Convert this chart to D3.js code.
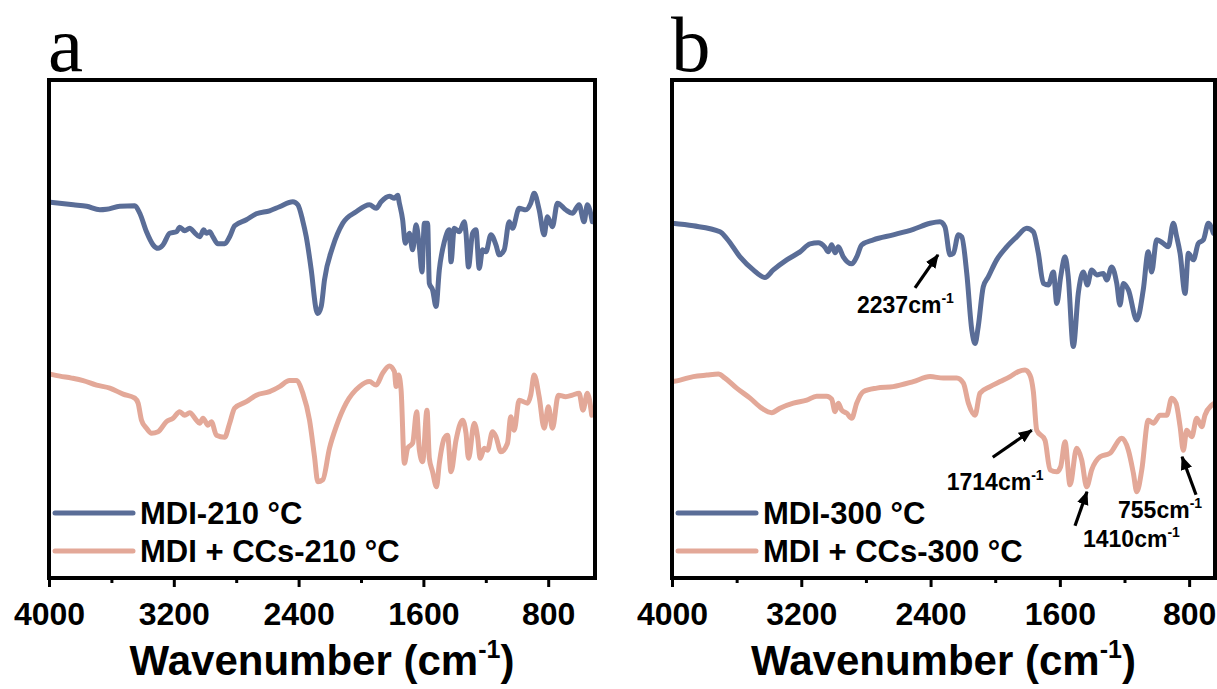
<!DOCTYPE html>
<html>
<head>
<meta charset="utf-8">
<script src="https://cdn.jsdelivr.net/npm/d3@7"></script>
<style>
  html, body { margin: 0; padding: 0; background: #fff; }
  svg { display: block; }
</style>
</head>
<body>
<svg id="chart" width="1217" height="689"></svg>
<script>
// FTIR spectra: [wavenumber (cm-1), transmittance (a.u., offset)]
const mdi210 = [[3994,75.0],[3844,74.5],[3759,74.2],[3674,73.5],[3631,73.6],[3546,74.2],[3450,74.3],[3418,72.8],[3375,69.1],[3333,66.5],[3301,65.8],[3269,66.5],[3226,68.8],[3183,69.1],[3162,70.0],[3130,69.3],[3098,69.8],[3066,68.9],[3034,68.1],[3008,69.5],[2991,68.8],[2970,69.1],[2949,68.1],[2917,66.7],[2874,66.7],[2842,68.1],[2810,70.3],[2735,71.5],[2671,72.7],[2586,73.3],[2522,74.1],[2437,75.1],[2405,74.5],[2375,71.5],[2351,68.1],[2319,61.5],[2287,53.5],[2277,52.8],[2255,54.2],[2234,59.5],[2181,66.1],[2117,70.8],[2031,73.1],[1946,74.5],[1903,73.8],[1871,75.1],[1818,76.2],[1786,75.8],[1765,76.4],[1754,74.8],[1733,71.5],[1716,66.8],[1690,68.8],[1669,65.5],[1647,70.5],[1626,66.1],[1609,61.1],[1594,70.8],[1573,70.8],[1562,58.8],[1541,57.5],[1519,54.2],[1498,61.5],[1466,67.1],[1434,69.5],[1423,63.1],[1402,69.8],[1370,69.1],[1338,71.1],[1327,68.8],[1311,62.1],[1285,68.8],[1263,69.5],[1242,61.8],[1221,65.5],[1199,65.1],[1167,68.5],[1135,66.5],[1114,64.5],[1082,65.5],[1050,71.1],[1029,69.8],[986,73.8],[943,73.5],[912,74.8],[890,76.8],[858,73.5],[826,68.5],[805,72.1],[773,70.1],[741,74.8],[688,73.5],[645,72.8],[602,74.5],[570,71.1],[549,74.5],[517,71.1]];

const mdiCc210 = [[3994,40.7],[3930,40.3],[3855,39.9],[3781,39.4],[3695,38.5],[3610,37.9],[3525,36.7],[3450,35.9],[3429,34.9],[3407,31.5],[3375,29.9],[3343,28.9],[3301,29.2],[3247,31.2],[3205,31.9],[3162,33.2],[3130,32.5],[3098,33.0],[3055,31.5],[3034,30.9],[3013,31.9],[2981,30.5],[2959,31.2],[2927,28.5],[2874,28.1],[2842,30.9],[2810,33.9],[2735,35.2],[2671,36.5],[2586,37.2],[2522,38.2],[2458,39.4],[2415,39.4],[2373,36.9],[2330,31.5],[2298,24.2],[2277,19.2],[2245,19.6],[2202,25.9],[2159,30.2],[2095,34.9],[2010,38.2],[1946,39.2],[1903,38.5],[1861,40.9],[1818,42.3],[1786,41.2],[1775,38.2],[1759,40.5],[1743,37.5],[1722,22.9],[1701,25.9],[1669,26.9],[1643,33.2],[1626,25.5],[1605,23.2],[1577,33.5],[1562,23.9],[1541,21.2],[1516,18.2],[1498,22.9],[1466,27.9],[1445,28.5],[1423,21.2],[1391,27.5],[1349,31.5],[1327,28.9],[1311,23.9],[1274,30.9],[1253,28.2],[1236,23.9],[1210,25.9],[1189,25.5],[1157,29.2],[1135,28.2],[1103,25.2],[1061,26.9],[1040,32.2],[1018,29.5],[986,35.5],[933,34.9],[912,36.5],[890,40.5],[858,36.2],[826,29.9],[799,34.2],[773,29.9],[735,36.5],[688,36.2],[645,36.5],[602,36.9],[577,33.5],[549,36.9],[521,32.5]];

const mdi300 = [[3998,70.8],[3868,70.3],[3703,69.1],[3662,67.8],[3579,64.1],[3497,61.5],[3425,60.0],[3373,61.5],[3290,63.5],[3208,65.1],[3146,66.7],[3095,66.9],[3053,66.0],[3033,65.1],[3012,66.5],[2991,64.9],[2971,66.1],[2940,64.1],[2888,62.7],[2857,64.1],[2826,66.5],[2754,67.5],[2631,68.5],[2507,69.6],[2403,70.8],[2342,71.1],[2311,70.1],[2280,64.5],[2259,64.8],[2228,68.5],[2207,68.1],[2176,60.8],[2145,49.5],[2125,46.8],[2105,50.2],[2074,58.1],[2043,60.1],[1991,63.5],[1929,66.1],[1867,68.1],[1805,69.8],[1764,69.1],[1733,64.8],[1702,58.8],[1671,58.5],[1640,61.1],[1619,54.8],[1595,60.1],[1568,64.1],[1548,60.1],[1517,46.2],[1486,56.8],[1455,61.1],[1430,58.5],[1403,61.5],[1372,60.5],[1331,60.8],[1310,59.5],[1279,62.1],[1248,58.8],[1228,54.5],[1207,58.8],[1176,57.5],[1124,51.5],[1084,57.5],[1053,65.1],[1032,61.1],[1001,67.5],[960,66.8],[929,66.1],[898,70.8],[877,68.1],[856,64.8],[825,56.8],[805,64.8],[774,63.5],[743,66.8],[712,67.5],[681,70.8],[650,68.8]];

const mdiCc300 = [[3998,39.2],[3950,39.5],[3868,40.2],[3785,40.5],[3713,40.7],[3672,39.9],[3600,37.9],[3517,35.9],[3445,33.9],[3383,33.0],[3332,33.9],[3249,34.9],[3166,35.5],[3105,36.3],[3043,36.3],[3012,35.7],[2991,33.2],[2971,34.9],[2950,33.5],[2919,32.9],[2888,31.9],[2857,34.9],[2816,37.2],[2733,37.9],[2631,38.2],[2507,39.2],[2403,40.2],[2321,39.9],[2238,39.9],[2197,38.9],[2166,34.9],[2125,32.5],[2094,36.9],[2032,38.2],[1970,39.2],[1908,40.2],[1857,41.2],[1816,41.5],[1785,40.5],[1764,37.2],[1743,29.5],[1692,27.5],[1661,21.6],[1619,21.2],[1595,22.2],[1568,27.2],[1537,18.6],[1496,25.9],[1465,23.6],[1434,18.2],[1403,21.6],[1351,24.2],[1290,24.9],[1217,27.9],[1176,25.5],[1145,20.9],[1124,17.2],[1093,21.6],[1053,31.5],[1022,30.9],[980,32.5],[939,32.5],[908,35.9],[881,34.9],[856,30.2],[836,25.5],[815,29.5],[784,28.2],[753,31.9],[722,30.2],[702,32.5],[660,34.5],[643,34.9]];

const xTicks = [4000, 3200, 2400, 1600, 800];
const xMinorTicks = [3600, 2800, 2000, 1200];

const colors = ["#5a6d97", "#e3a898"];
const sansBold = "'Liberation Sans', Arial, sans-serif";

// Layout
const plotTop = 80, plotBottom = 578;
const yScale = d3.scaleLinear().domain([0, 99.4]).range([plotBottom, plotTop]);

const panels = [
  { tag: "a", left: 49, right: 595, domain: [4000, 500],
    series: [mdi210, mdiCc210], names: ["MDI-210 °C", "MDI + CCs-210 °C"],
    notes: [] },
  { tag: "b", left: 672, right: 1215, domain: [4000, 640],
    series: [mdi300, mdiCc300], names: ["MDI-300 °C", "MDI + CCs-300 °C"],
    // arrow tip (data coords), tail offset and label offset (px from tip)
    notes: [
      { label: "2237", at: [2354, 64.5], tail: [-23, 33], text: [-81, 58] },
      { label: "1714", at: [1774, 29.5], tail: [-39, 27], text: [-85, 60] },
      { label: "1410", at: [1432, 17.2], tail: [-12, 34], text: [-4, 55] },
      { label: "755",  at: [844, 24.2],  tail: [14, 38],  text: [-64, 61] }
    ] }
];

const svg = d3.select("#chart");
const defs = svg.append("defs");

defs.append("marker")
  .attr("id", "arrowhead")
  .attr("markerUnits", "userSpaceOnUse")
  .attr("viewBox", "0 0 12 10")
  .attr("refX", 11).attr("refY", 5)
  .attr("markerWidth", 14).attr("markerHeight", 12)
  .attr("orient", "auto")
  .append("path").attr("d", "M0,0 L12,5 L0,10 Z").attr("fill", "#000");

panels.forEach(p => {
  const x = d3.scaleLinear().domain(p.domain).range([p.left, p.right]);
  const g = svg.append("g");

  const clipId = "clip-" + p.tag;
  defs.append("clipPath").attr("id", clipId)
    .append("rect").attr("x", p.left).attr("y", plotTop)
    .attr("width", p.right - p.left).attr("height", plotBottom - plotTop);

  // spectra
  const line = d3.line().x(d => x(d[0])).y(d => yScale(d[1])).curve(d3.curveMonotoneX);
  p.series.forEach((s, i) => {
    g.append("path").datum(s)
      .attr("clip-path", `url(#${clipId})`)
      .attr("d", line)
      .attr("fill", "none")
      .attr("stroke", colors[i])
      .attr("stroke-width", 5)
      .attr("stroke-linejoin", "round")
      .attr("stroke-linecap", "round");
  });

  // bottom axis: major ticks with labels, minor ticks without
  const axis = d3.axisBottom(x).tickValues(xTicks).tickFormat(d3.format("d"))
    .tickSize(9).tickSizeOuter(0).tickPadding(15);
  const ax = g.append("g").attr("transform", `translate(0,${plotBottom})`).call(axis);
  ax.select(".domain").remove();
  ax.selectAll(".tick line").attr("stroke", "#000").attr("stroke-width", 3);
  ax.selectAll(".tick text")
    .style("font-family", sansBold).style("font-weight", "bold")
    .style("font-size", "32px").attr("fill", "#000");

  const minor = d3.axisBottom(x).tickValues(xMinorTicks).tickFormat("").tickSize(5).tickSizeOuter(0);
  const mx = g.append("g").attr("transform", `translate(0,${plotBottom})`).call(minor);
  mx.select(".domain").remove();
  mx.selectAll(".tick line").attr("stroke", "#000").attr("stroke-width", 3);

  // frame
  g.append("rect")
    .attr("x", p.left).attr("y", plotTop)
    .attr("width", p.right - p.left).attr("height", plotBottom - plotTop)
    .attr("fill", "none").attr("stroke", "#000").attr("stroke-width", 4);

  // axis title
  const title = g.append("text")
    .attr("x", (p.left + p.right) / 2).attr("y", 675)
    .attr("text-anchor", "middle")
    .style("font-family", sansBold).style("font-weight", "bold").style("font-size", "42px");
  title.append("tspan").text("Wavenumber (cm");
  title.append("tspan").style("font-size", "25px").attr("dy", -17).text("-1");
  title.append("tspan").attr("dy", 17).text(")");

  // panel tag
  g.append("text")
    .attr("x", p.left - 1).attr("y", 71)
    .style("font-family", "'Liberation Serif', 'Times New Roman', serif")
    .style("font-weight", "normal")
    .style("font-size", "79px")
    .text(p.tag);

  // legend
  const legendRows = [513, 551];
  p.names.forEach((name, i) => {
    g.append("line")
      .attr("x1", p.left + 6).attr("x2", p.left + 84)
      .attr("y1", legendRows[i]).attr("y2", legendRows[i])
      .attr("stroke", colors[i]).attr("stroke-width", 5)
      .attr("stroke-linecap", "round");
    g.append("text")
      .attr("x", p.left + 91).attr("y", legendRows[i])
      .attr("dy", "0.36em")
      .style("font-family", sansBold).style("font-weight", "bold").style("font-size", "31px")
      .text(name);
  });

  // peak annotations
  p.notes.forEach(n => {
    const tx = x(n.at[0]), ty = yScale(n.at[1]);
    g.append("line")
      .attr("x1", tx + n.tail[0]).attr("y1", ty + n.tail[1])
      .attr("x2", tx).attr("y2", ty)
      .attr("stroke", "#000").attr("stroke-width", 3.2)
      .attr("marker-end", "url(#arrowhead)");
    const t = g.append("text")
      .attr("x", tx + n.text[0]).attr("y", ty + n.text[1])
      .style("font-family", sansBold).style("font-weight", "bold").style("font-size", "23px");
    t.append("tspan").text(n.label + "cm");
    t.append("tspan").style("font-size", "14px").attr("dy", -10).text("-1");
  });
});
</script>
</body>
</html>
